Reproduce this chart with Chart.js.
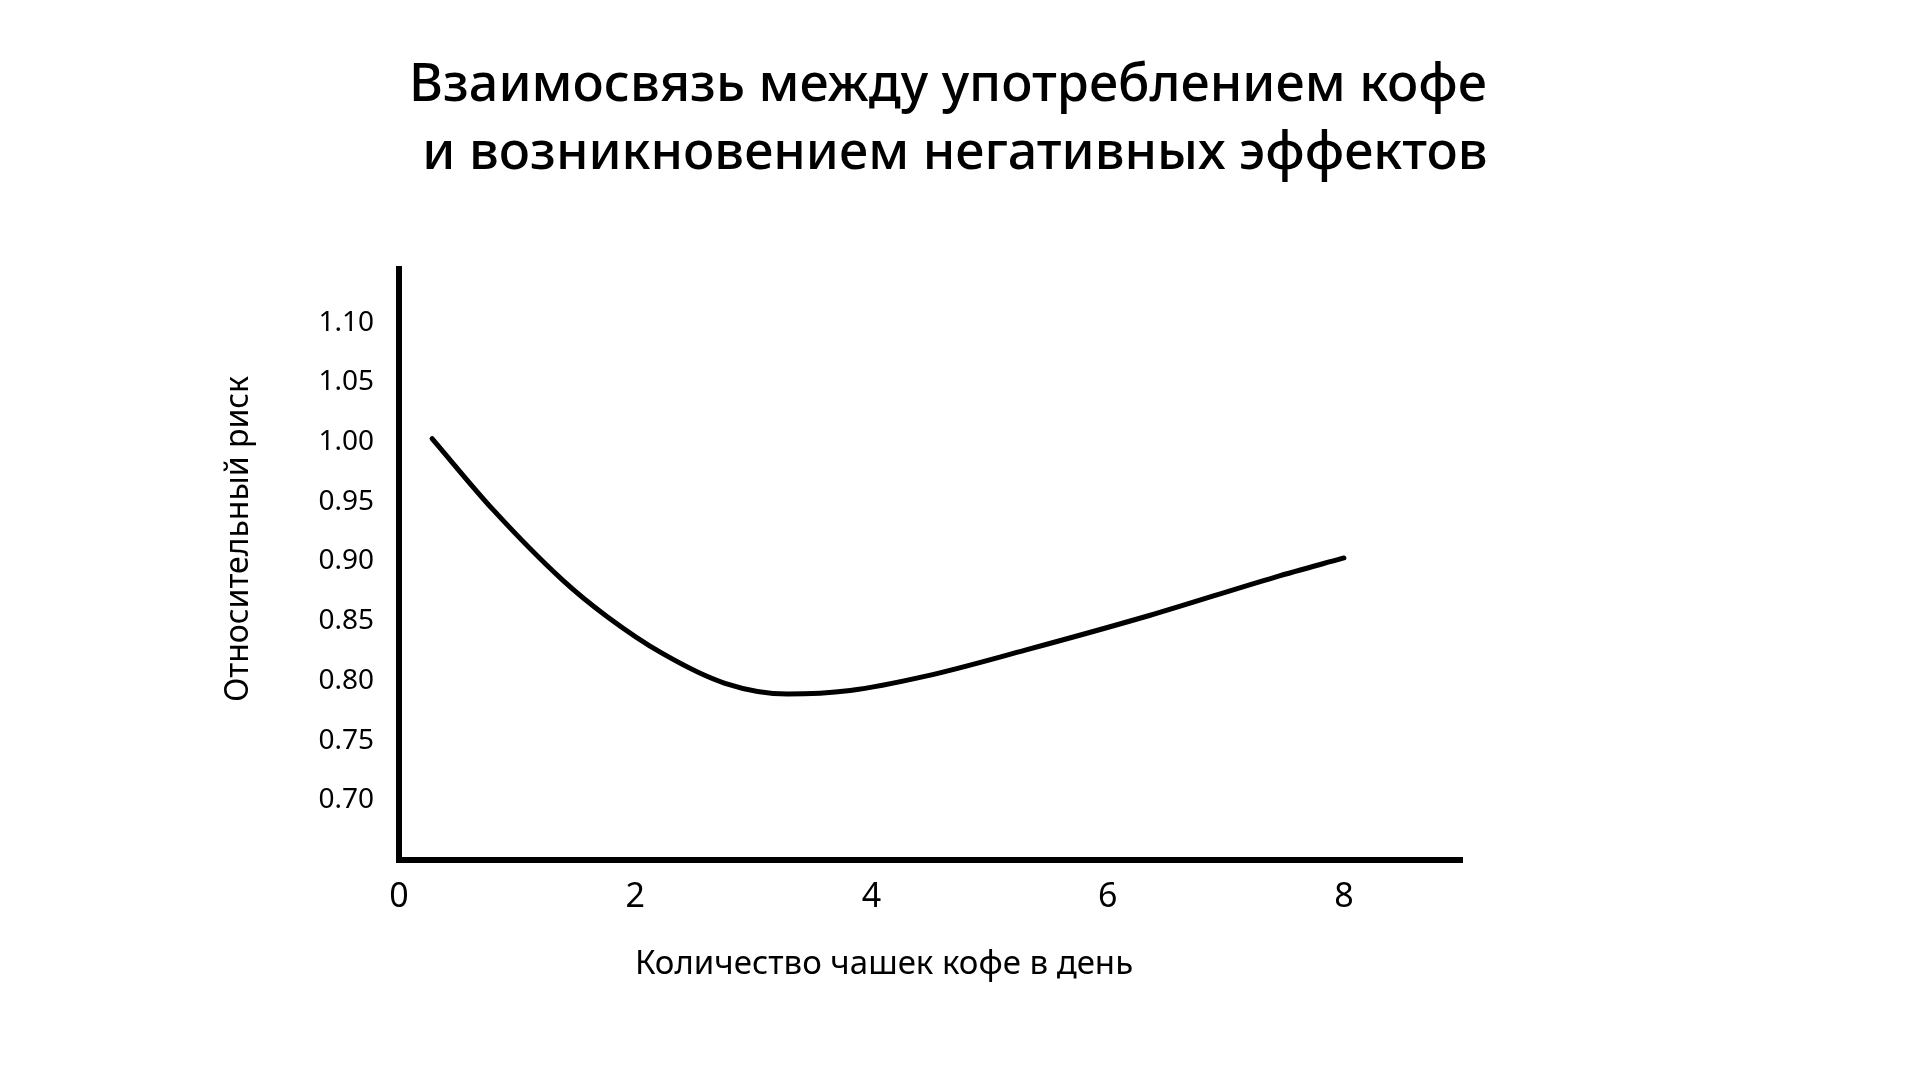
<!DOCTYPE html>
<html lang="ru">
<head>
<meta charset="utf-8">
<title>Кофе и риск</title>
<script src="https://cdn.jsdelivr.net/npm/chart.js@4.4.1/dist/chart.umd.min.js"></script>
<style>
  html, body { margin: 0; padding: 0; background: #fff; }
  #wrap { width: 1920px; height: 1080px; }
</style>
</head>
<body>
<div id="wrap"><canvas id="myChart" width="1920" height="1080"></canvas></div>
<script>
// Данные
const cupsPerDay = [0.28, 0.8, 1.39, 1.76, 2.23, 2.76, 3.29, 3.82, 4.46, 5.31, 6.36, 7.42, 8.0];
const relativeRisk = [1.003, 0.943, 0.884, 0.854, 0.823, 0.798, 0.789, 0.792, 0.804, 0.826, 0.855, 0.887, 0.903];
const xTickValues = [0, 2, 4, 6, 8];
const yTickValues = [0.70, 0.75, 0.80, 0.85, 0.90, 0.95, 1.00, 1.05, 1.10];

const chartTitle = ['Взаимосвязь между употреблением кофе', 'и возникновением негативных эффектов'];
const xTitle = 'Количество чашек кофе в день';
const yTitle = 'Относительный риск';

const FONT = '"Noto Sans", "DejaVu Sans", sans-serif';

// Заголовок и подписи осей рисуем сами, чтобы поставить их как на оригинале
const chartTexts = {
    id: 'chartTexts',
    afterDraw(chart) {
        const { ctx, chartArea } = chart;
        ctx.save();
        ctx.fillStyle = '#000';
        ctx.textAlign = 'center';
        ctx.textBaseline = 'middle';

        ctx.font = '500 52px ' + FONT;
        ctx.fillText(chartTitle[0], 948, 86);
        ctx.fillText(chartTitle[1], 955, 154);

        ctx.font = '33px ' + FONT;
        ctx.fillText(xTitle, chartArea.left + 485, chartArea.bottom + 105);
        ctx.translate(chartArea.left - 160, chartArea.top + 270);
        ctx.rotate(-Math.PI / 2);
        ctx.font = '32px ' + FONT;
        ctx.fillText(yTitle, 0, 0);
        ctx.restore();
    }
};

const points = cupsPerDay.map((x, i) => ({ x: x, y: relativeRisk[i] }));

new Chart(document.getElementById('myChart').getContext('2d'), {
    type: 'line',
    data: {
        datasets: [{
            data: points,
            borderColor: '#000',
            borderWidth: 5,
            borderCapStyle: 'round',
            pointRadius: 0,
            fill: false,
            cubicInterpolationMode: 'monotone'
        }]
    },
    options: {
        responsive: false,
        animation: false,
        layout: {
            padding: { left: 249, right: 458, top: 269, bottom: 160 }
        },
        plugins: {
            legend: { display: false },
            tooltip: { enabled: false },
            title: { display: false }
        },
        scales: {
            x: {
                type: 'linear',
                min: 0,
                max: 9,
                afterFit: s => { s.height = 60; },
                afterBuildTicks: s => { s.ticks = xTickValues.map(v => ({ value: v })); },
                grid: { display: false },
                border: { display: true, color: '#000', width: 6 },
                ticks: {
                    color: '#000',
                    padding: 9,
                    font: { family: FONT, size: 34 },
                    maxRotation: 0
                }
            },
            y: {
                type: 'linear',
                min: 0.65,
                max: 1.145,
                afterFit: s => { s.width = 150; },
                afterBuildTicks: s => { s.ticks = yTickValues.map(v => ({ value: v })); },
                grid: { display: false },
                border: { display: true, color: '#000', width: 6 },
                ticks: {
                    color: '#000',
                    padding: 17,
                    crossAlign: 'center',
                    font: { family: FONT, size: 28 },
                    callback: v => Number(v).toFixed(2)
                }
            }
        }
    },
    plugins: [chartTexts]
});
</script>
</body>
</html>
